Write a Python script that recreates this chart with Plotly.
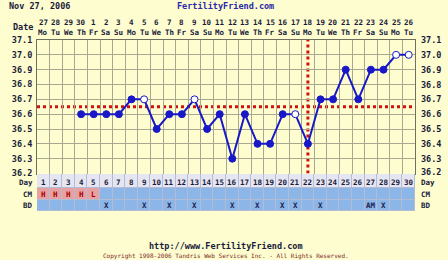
import plotly.graph_objects as go

# ---------------- data ----------------
days = list(range(1, 31))
dates = ["27", "28", "29", "30", "1", "2", "3", "4", "5", "6", "7", "8", "9", "10", "11",
         "12", "13", "14", "15", "16", "17", "18", "19", "20", "21", "22", "23", "24", "25", "26"]
weekdays = ["Mo", "Tu", "We", "Th", "Fr", "Sa", "Su"] * 4 + ["Mo", "Tu"]
temps = [None, None, None,
         36.6, 36.6, 36.6, 36.6, 36.7, 36.7, 36.5, 36.6, 36.6, 36.7, 36.5, 36.6,
         36.3, 36.6, 36.4, 36.4, 36.6, 36.6, 36.4, 36.7, 36.7, 36.9, 36.7, 36.9,
         36.9, 37.0, 37.0]
open_days = [9, 13, 21, 29, 30]
coverline = 36.65
ovulation_day = 22
cm = ["H", "H", "H", "H", "L"] + [""] * 25
bd = ["", "", "", "", "", "X", "", "", "X", "", "X", "", "X", "", "", "X", "", "X", "",
      "X", "X", "", "X", "", "", "", "AM", "X", "", ""]
ytick_vals = [36.2, 36.3, 36.4, 36.5, 36.6, 36.7, 36.8, 36.9, 37.0, 37.1]
row_names = ["Day", "CM", "BD"]
row_edges = [174, 188, 199.5, 211]
row_centers = [182, 194, 205]

# ---------------- style ----------------
W, H = 448, 260
L, R, T, B = 33, 33, 40, 49
BG = "#fdfdd0"
GRID = "#a8a890"
TXT = "#1a1a3a"
BLUE = "#1818c8"
FONT = "DejaVu Sans Mono"
PW = W - L - R
PH = H - T - B


def py(v):
    return (H - B - v) / PH


def px(v):
    return (v - L) / PW


fig = go.Figure()

# temperature line
mcol = ["white" if d in open_days else BLUE for d in days]
fig.add_trace(go.Scatter(
    x=days, y=temps, mode="lines+markers", connectgaps=False,
    line=dict(color=BLUE, width=2),
    marker=dict(size=7, color=mcol, line=dict(color=BLUE, width=1)),
    xaxis="x", yaxis="y", showlegend=False, hoverinfo="skip"))

# bottom table as heatmap
zrow_day = [0] * 30
zrow_cm = [1 if c else 2 for c in cm]
zrow_bd = [2] * 30
fig.add_trace(go.Heatmap(
    x=[d - 0.5 for d in days] + [30.5], y=row_edges,
    z=[zrow_day, zrow_cm, zrow_bd], zmin=0, zmax=2,
    colorscale=[[0, "#e6e6f2"], [0.33, "#e6e6f2"], [0.34, "#e8a0a0"], [0.66, "#e8a0a0"],
                [0.67, "#8cb6e8"], [1, "#8cb6e8"]],
    showscale=False, xgap=1, ygap=1, hoverinfo="skip",
    xaxis="x2", yaxis="y2"))

fig.add_shape(type="rect", xref="x2", yref="y2", x0=0.5, x1=30.5, y0=174, y1=211,
              fillcolor="#b4bcd4", line=dict(width=0), layer="below")

main_dom = [py(173.5), 1]
tab_dom = [0, py(174)]

fig.update_layout(
    width=W, height=H, margin=dict(l=L, r=R, t=T, b=B),
    paper_bgcolor=BG, plot_bgcolor=BG,
    xaxis=dict(range=[0.5, 30.5], domain=[0, 1], anchor="y",
               tickvals=[d + 0.5 for d in range(0, 31)], showticklabels=False,
               showgrid=True, gridcolor=GRID, gridwidth=1, zeroline=False,
               showline=True, linecolor="#707060", mirror=True, ticks=""),
    yaxis=dict(range=[36.2, 37.1], domain=main_dom, anchor="x",
               tickvals=ytick_vals, ticktext=["%.1f" % v for v in ytick_vals],
               showgrid=True, gridcolor=GRID, gridwidth=1, zeroline=False,
               showline=True, linecolor="#707060", mirror=True, ticks="",
               ticklabelstandoff=2,
               tickfont=dict(family=FONT, size=8.5, color=TXT, weight="bold")),
    xaxis2=dict(range=[0.5, 30.5], domain=[0, 1], anchor="y2", matches="x",
                showticklabels=False, showgrid=False, zeroline=False, ticks=""),
    yaxis2=dict(range=[211, 174], domain=tab_dom, anchor="x2",
                showticklabels=False, showgrid=False, zeroline=False, ticks=""),
)

ann = []
bold = dict(family=FONT, size=8.5, color=TXT, weight="bold")
small = dict(family=FONT, size=7.5, color=TXT, weight="bold")
# header
ann.append(dict(text="Nov 27, 2006", xref="paper", yref="paper", x=px(3), y=py(6),
                xanchor="left", yanchor="middle", showarrow=False, font=bold))
ann.append(dict(text="FertilityFriend.com", xref="paper", yref="paper", x=px(223), y=py(6),
                xanchor="center", yanchor="middle", showarrow=False,
                font=dict(family=FONT, size=8.5, color="#2828a8", weight="bold")))
ann.append(dict(text="Date", xref="paper", yref="paper", x=px(31), y=py(27.5),
                xanchor="right", yanchor="middle", showarrow=False, font=bold))
for d, ds, wd in zip(days, dates, weekdays):
    ann.append(dict(text=ds, xref="x", yref="paper", x=d, y=py(22.5), xanchor="center",
                    yanchor="middle", showarrow=False, font=small))
    ann.append(dict(text=wd, xref="x", yref="paper", x=d, y=py(32.5), xanchor="center",
                    yanchor="middle", showarrow=False, font=small))
# right-side temperature labels
for v in ytick_vals:
    ann.append(dict(text="%.1f" % v, xref="paper", yref="y", x=px(419), y=v,
                    xanchor="left", yanchor="middle", showarrow=False, font=bold,
                    yshift=1.5 if v == ytick_vals[0] else 0))
# table labels both sides
for name, yc in zip(row_names, row_centers):
    ann.append(dict(text=name, xref="paper", yref="y2", x=px(31), y=yc, xanchor="right",
                    yanchor="middle", showarrow=False, font=small))
    ann.append(dict(text=name, xref="paper", yref="y2", x=px(419), y=yc, xanchor="left",
                    yanchor="middle", showarrow=False, font=small))
# table cells
for d in days:
    ann.append(dict(text=str(d), xref="x2", yref="y2", x=d, y=row_centers[0], xanchor="center",
                    yanchor="middle", showarrow=False, font=small))
    if cm[d - 1]:
        ann.append(dict(text=cm[d - 1], xref="x2", yref="y2", x=d, y=row_centers[1],
                        xanchor="center", yanchor="middle", showarrow=False,
                        font=dict(family=FONT, size=7.5, color="#a00000", weight="bold")))
    if bd[d - 1]:
        ann.append(dict(text=bd[d - 1], xref="x2", yref="y2", x=d, y=row_centers[2],
                        xanchor="center", yanchor="middle", showarrow=False,
                        font=dict(family=FONT, size=7.5, color="#202050", weight="bold")))
# footer
ann.append(dict(text="http://www.FertilityFriend.com", xref="paper", yref="paper", x=px(224),
                y=py(246), xanchor="center", yanchor="middle", showarrow=False, font=bold))
ann.append(dict(text="Copyright 1998-2006 Tandris Web Services Inc. - All Rights Reserved.",
                xref="paper", yref="paper", x=px(224), y=py(256), xanchor="center",
                yanchor="middle", showarrow=False,
                font=dict(family=FONT, size=6, color="#802828")))
fig.update_layout(annotations=ann)

# coverline and ovulation line
fig.add_shape(type="line", xref="x", yref="y", x0=0.5, x1=30.5, y0=coverline, y1=coverline,
              line=dict(color="#d01010", width=3, dash="dot"), layer="below")
fig.add_shape(type="line", xref="x", yref="y", x0=ovulation_day, x1=ovulation_day,
              y0=36.2, y1=37.1, line=dict(color="#d01010", width=3, dash="dot"), layer="below")

fig.write_html("out.html")
